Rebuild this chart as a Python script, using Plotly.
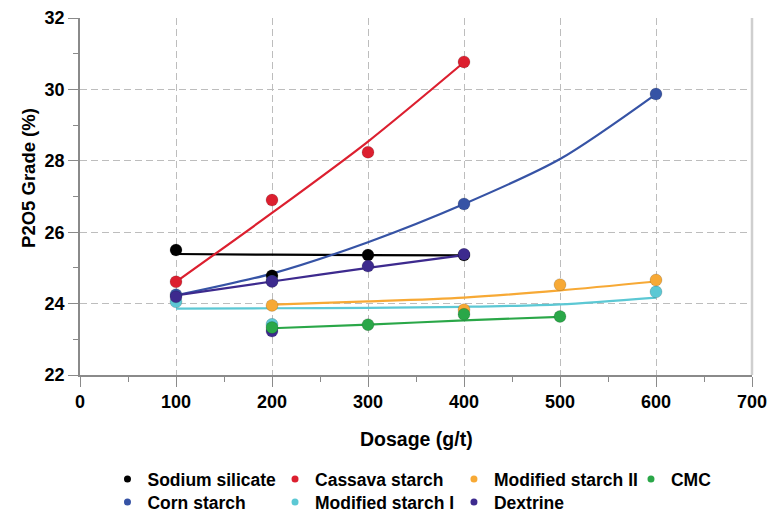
import plotly.graph_objects as go

# ---------------- data ----------------
names = ["Sodium silicate", "Corn starch", "Cassava starch", "Modified starch I",
         "Modified starch II", "Dextrine", "CMC"]
colors = {"Sodium silicate": "#000000", "Corn starch": "#3653a5", "Cassava starch": "#dc1f2f",
          "Modified starch I": "#5cc8d4", "Modified starch II": "#f7a935",
          "Dextrine": "#3d2a8e", "CMC": "#2aa748"}

# measured points (markers)
sodium_x = [100, 200, 300, 400]
sodium_y = [25.50, 24.78, 25.36, 25.36]
corn_x = [100, 200, 400, 600]
corn_y = [24.25, 24.63, 26.79, 29.87]
cassava_x = [100, 200, 300, 400]
cassava_y = [24.61, 26.90, 28.24, 30.77]
mod1_x = [100, 200, 600]
mod1_y = [24.05, 23.42, 24.33]
mod2_x = [200, 400, 500, 600]
mod2_y = [23.95, 23.83, 24.53, 24.66]
dextrine_x = [100, 200, 300, 400, 200]
dextrine_y = [24.19, 24.62, 25.05, 25.38, 23.23]
cmc_x = [200, 300, 400, 500]
cmc_y = [23.33, 23.41, 23.70, 23.64]

# fitted trend curves (lines)
sodium_fit_x = [100, 200, 300, 400]
sodium_fit_y = [25.39, 25.37, 25.36, 25.35]
corn_fit_x = [100, 200, 300, 400, 500, 600]
corn_fit_y = [24.23, 24.84, 25.72, 26.79, 28.05, 29.87]
cassava_fit_x = [100, 200, 300, 400]
cassava_fit_y = [24.61, 26.54, 28.54, 30.76]
mod1_fit_x = [100, 200, 300, 400, 500, 600]
mod1_fit_y = [23.86, 23.87, 23.88, 23.91, 23.98, 24.17]
mod2_fit_x = [200, 300, 400, 500, 600]
mod2_fit_y = [23.97, 24.06, 24.17, 24.37, 24.62]
dextrine_fit_x = [100, 200, 300, 400]
dextrine_fit_y = [24.23, 24.62, 25.00, 25.36]
cmc_fit_x = [200, 300, 400, 500]
cmc_fit_y = [23.31, 23.41, 23.53, 23.63]

x_ticks = [0, 100, 200, 300, 400, 500, 600, 700]
y_ticks = [22, 24, 26, 28, 30, 32]

points = {
    "Sodium silicate": (sodium_x, sodium_y),
    "Corn starch": (corn_x, corn_y),
    "Cassava starch": (cassava_x, cassava_y),
    "Modified starch I": (mod1_x, mod1_y),
    "Modified starch II": (mod2_x, mod2_y),
    "Dextrine": (dextrine_x, dextrine_y),
    "CMC": (cmc_x, cmc_y),
}
fits = {
    "Sodium silicate": (sodium_fit_x, sodium_fit_y),
    "Corn starch": (corn_fit_x, corn_fit_y),
    "Cassava starch": (cassava_fit_x, cassava_fit_y),
    "Modified starch I": (mod1_fit_x, mod1_fit_y),
    "Modified starch II": (mod2_fit_x, mod2_fit_y),
    "Dextrine": (dextrine_fit_x, dextrine_fit_y),
    "CMC": (cmc_fit_x, cmc_fit_y),
}

FONT = "Liberation Sans, Arial, sans-serif"
fig = go.Figure()

# fitted lines
for n in names:
    fx, fy = fits[n]
    fig.add_trace(go.Scatter(x=fx, y=fy, mode="lines",
                             line=dict(color=colors[n], width=2.2, shape="spline", smoothing=0.8),
                             showlegend=False, hoverinfo="skip"))

# markers (draw order chosen to match overlaps)
marker_order = ["Sodium silicate", "Corn starch", "Cassava starch", "Modified starch I",
                "Modified starch II", "Dextrine", "CMC"]
for n in marker_order:
    px, py = points[n]
    fig.add_trace(go.Scatter(x=px, y=py, mode="markers", name=n, showlegend=False,
                             marker=dict(color=colors[n], size=12,
                                         line=dict(color="rgba(0,0,0,0.25)", width=0.6))))

# legend entries: 7 single-item legends laid out as 4 columns x 2 rows (container coords)
legend_slots = {
    "Sodium silicate": ("legend", 0.1394, 0.0717),
    "Cassava starch": ("legend2", 0.3567, 0.0717),
    "Modified starch II": ("legend3", 0.5888, 0.0717),
    "CMC": ("legend4", 0.8184, 0.0717),
    "Corn starch": ("legend5", 0.1394, 0.0271),
    "Modified starch I": ("legend6", 0.3567, 0.0271),
    "Dextrine": ("legend7", 0.5888, 0.0271),
}
legend_layout = {}
for n, (lg, lx, ly) in legend_slots.items():
    fig.add_trace(go.Scatter(x=[None], y=[None], mode="markers", name=n, legend=lg,
                             marker=dict(color=colors[n], size=7), showlegend=True))
    legend_layout[lg] = dict(x=lx, y=ly, xref="container", yref="container",
                             xanchor="left", yanchor="middle", orientation="v",
                             bgcolor="rgba(0,0,0,0)", borderwidth=0, itemwidth=30,
                             font=dict(family=FONT, size=17.5, color="#000000", weight="bold"))

grid_color = "#bdbdbd"
axis_color = "#8a8a8a"

fig.update_layout(
    width=771, height=516,
    margin=dict(l=80, r=19, t=18, b=141, autoexpand=False),
    paper_bgcolor="white", plot_bgcolor="white",
    font=dict(family=FONT, color="#000000"),
    showlegend=True,
    **legend_layout,
    xaxis=dict(
        range=[0, 700], tickvals=x_ticks, ticktext=[str(v) for v in x_ticks],
        showgrid=True, gridcolor=grid_color, gridwidth=1, griddash="7px,4px",
        showline=True, linecolor=axis_color, linewidth=1.5,
        ticks="outside", ticklen=10, tickcolor=axis_color, tickwidth=1.2,
        minor=dict(dtick=50, ticks="outside", ticklen=5, tickcolor=axis_color, showgrid=False),
        tickfont=dict(family=FONT, size=18, color="#000000", weight="bold"),
        zeroline=False, fixedrange=True, automargin=False,
    ),
    yaxis=dict(
        range=[22, 32], tickvals=y_ticks, ticktext=[str(v) for v in y_ticks],
        showgrid=True, gridcolor=grid_color, gridwidth=1, griddash="7px,4px",
        showline=True, linecolor=axis_color, linewidth=1.5,
        ticks="outside", ticklen=10, tickcolor=axis_color, tickwidth=1.2,
        minor=dict(dtick=1, ticks="outside", ticklen=5, tickcolor=axis_color, showgrid=False),
        tickfont=dict(family=FONT, size=18, color="#000000", weight="bold"),
        zeroline=False, fixedrange=True, automargin=False,
    ),
    annotations=[
        dict(text="P2O5 Grade (%)", xref="paper", yref="paper", x=-0.0759, y=0.552,
             xanchor="center", yanchor="middle", textangle=-90, showarrow=False,
             font=dict(family=FONT, size=18.5, color="#000000", weight="bold")),
        dict(text="Dosage (g/t)", xref="paper", yref="paper", x=0.5, y=-0.178,
             xanchor="center", yanchor="middle", showarrow=False,
             font=dict(family=FONT, size=19.5, color="#000000", weight="bold")),
    ],
    shapes=[dict(type="line", xref="paper", yref="paper", x0=1, x1=1, y0=0, y1=1,
                 line=dict(color="#cfcfcf", width=2.5))],
)

fig.write_html("out.html", post_script="document.body.style.margin='0';",
               config={"displayModeBar": False})
